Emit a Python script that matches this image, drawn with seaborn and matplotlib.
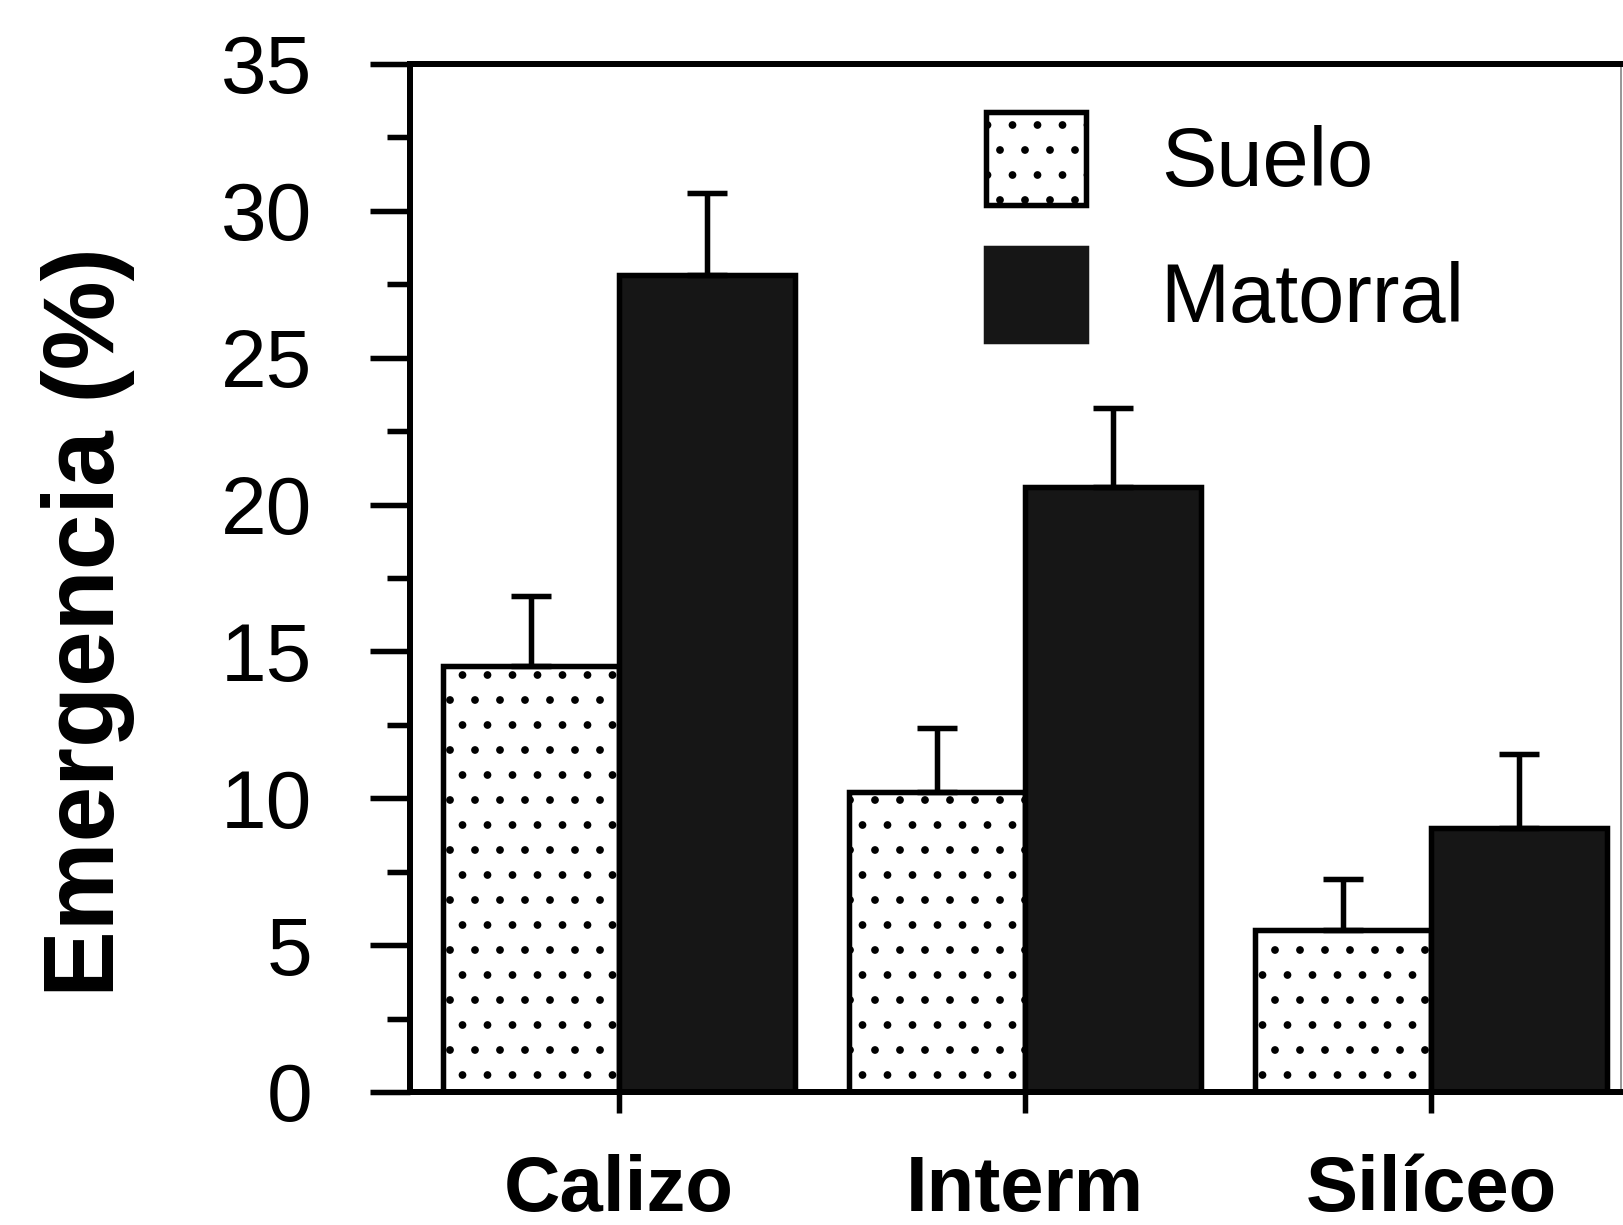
import numpy as np
import pandas as pd
import matplotlib
matplotlib.use("Agg")
import matplotlib.pyplot as plt
from matplotlib.patches import Patch
from matplotlib.ticker import MultipleLocator
import seaborn as sns

# Emergence (%) per substrate and microhabitat, mean and standard error
sites = ["Calizo", "Interm", "Silíceo"]
treatments = ["Suelo", "Matorral"]
suelo_mean = [14.5, 10.2, 5.5]
suelo_se = [2.4, 2.2, 1.75]
matorral_mean = [27.8, 20.6, 9.0]
matorral_se = [2.8, 2.7, 2.5]
yticks = [0, 5, 10, 15, 20, 25, 30, 35]

DPI = 150
PT = 72 / DPI  # points per output pixel

sns.set_theme(style="ticks")
plt.rcParams["font.family"] = ["Liberation Sans", "DejaVu Sans"]
plt.rcParams["hatch.linewidth"] = 1.3
plt.rcParams["text.color"] = "black"

df = pd.DataFrame({
    "sitio": sites * 2,
    "tratamiento": ["Suelo"] * len(sites) + ["Matorral"] * len(sites),
    "emergencia": suelo_mean + matorral_mean,
})

W, H = 1623, 1225
fig = plt.figure(figsize=(W / DPI, H / DPI), dpi=DPI)
ax = fig.add_axes([410 / W, 1 - 1092 / H, (1621 - 410) / W, (1092 - 64) / H])

dark = "#161616"
LW = 5.5 * PT
sns.barplot(data=df, x="sitio", y="emergencia", hue="tratamiento",
            order=sites, hue_order=treatments,
            palette={"Suelo": "white", "Matorral": dark},
            width=0.866, edgecolor="black", linewidth=LW,
            errorbar=None, legend=False, saturation=1, ax=ax)

# dotted fill for the bare-soil bars
for bar in ax.containers[0]:
    bar.set_hatch(".")

# one-sided (upper) standard-error bars
for cont, means, ses in zip(ax.containers, [suelo_mean, matorral_mean],
                            [suelo_se, matorral_se]):
    xs = [b.get_x() + b.get_width() / 2 for b in cont]
    ax.errorbar(xs, means, yerr=[np.zeros(len(ses)), ses], fmt="none",
                ecolor="black", elinewidth=LW, capsize=20 * PT,
                capthick=LW, zorder=3)

ax.set_xlim(-0.515, 2.468)
ax.set_ylim(0, 35)
ax.set_yticks(yticks)
ax.yaxis.set_minor_locator(MultipleLocator(2.5))
ax.set_xticks(range(len(sites)))
ax.set_xticklabels(sites, fontweight="bold")

ax.tick_params(axis="y", which="major", length=40 * PT, width=LW,
               pad=58 * PT, labelsize=82 * PT, color="black", labelcolor="black")
ax.tick_params(axis="y", which="minor", length=23 * PT, width=LW, color="black")
ax.tick_params(axis="x", length=21 * PT, width=LW, pad=41 * PT,
               labelsize=78 * PT, color="black", labelcolor="black")

for name, sp in ax.spines.items():
    sp.set_color("black")
    sp.set_linewidth(6 * PT)
ax.spines["right"].set_linewidth(1.5 * PT)
ax.spines["right"].set_color("#777777")

ax.set_xlabel("")
ax.set_ylabel("Emergencia (%)", fontsize=100 * PT, fontweight="bold",
              va="center", color="black")
ax.yaxis.set_label_coords(-0.266, 0.457)

handles = [
    Patch(facecolor="white", edgecolor="black", hatch=".", linewidth=LW,
          label="Suelo"),
    Patch(facecolor=dark, edgecolor=dark, linewidth=LW, label="Matorral"),
]
leg = ax.legend(handles=handles, loc="upper left", bbox_to_anchor=(0.476, 0.953),
                frameon=False, fontsize=83 * PT, handlelength=1.2,
                handleheight=1.34, handletextpad=0.9, labelspacing=0.52,
                borderpad=0, borderaxespad=0)
for t in leg.get_texts():
    t.set_color("black")

fig.savefig("out.png", dpi=DPI, facecolor="white")
